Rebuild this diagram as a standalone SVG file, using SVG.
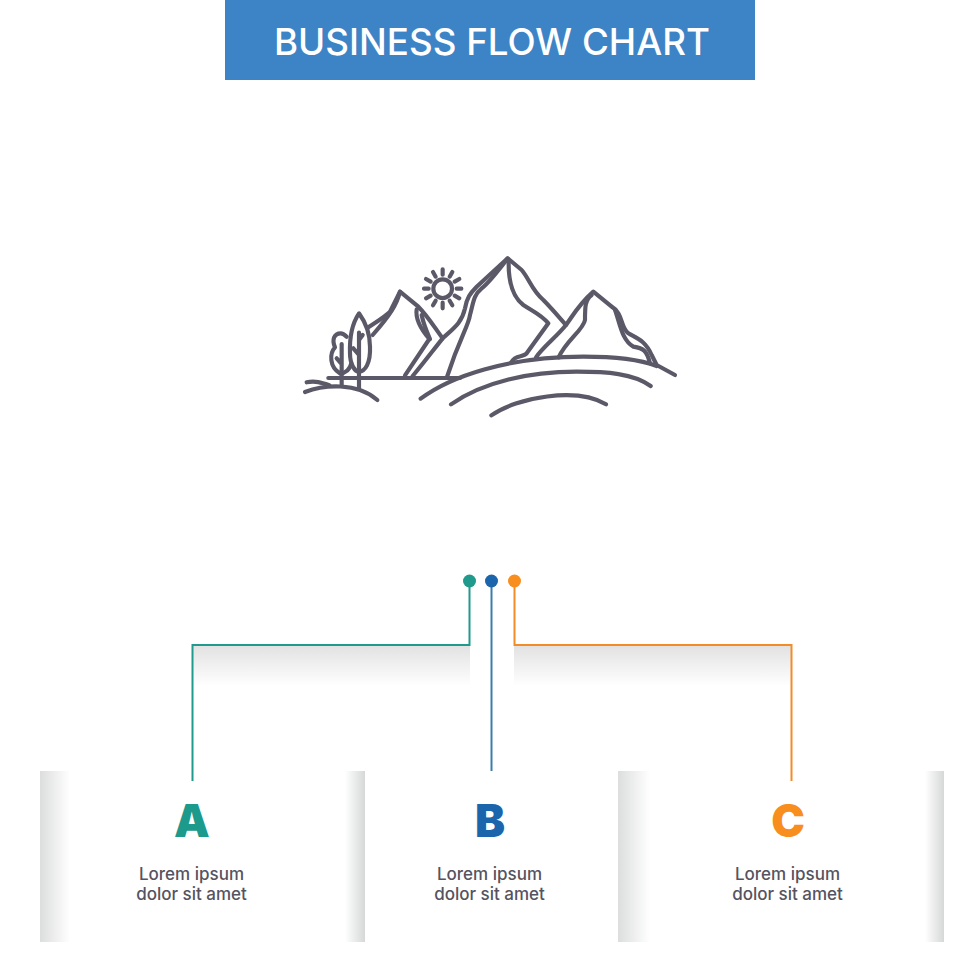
<svg xmlns="http://www.w3.org/2000/svg" width="980" height="980" viewBox="0 0 980 980">
<style>
.ic{fill:none;stroke:#5b5968;stroke-width:12.5;stroke-linecap:round;stroke-linejoin:round}
.t{font-family:Inter,"Open Sans","Liberation Sans",sans-serif;font-size:17px;fill:#55535f;text-anchor:middle;font-weight:500}
.l{font-family:Inter,"Open Sans","Liberation Sans",sans-serif;font-size:45px;font-weight:900;text-anchor:middle}
.c{fill:none;stroke-width:2}
</style>
<defs>
<linearGradient id="sl"><stop offset="0" stop-color="#dcdddd"/><stop offset="1" stop-color="#fff"/></linearGradient>
<linearGradient id="sr"><stop offset="0" stop-color="#fff"/><stop offset="1" stop-color="#d6d7d7"/></linearGradient>
<linearGradient id="sd" x1="0" y1="0" x2="0" y2="1"><stop offset="0" stop-color="#e2e2e3"/><stop offset="1" stop-color="#fff"/></linearGradient>
</defs>
<rect width="980" height="980" fill="#fff"/>
<g id="header">
<rect x="225" y="0" width="530" height="80" fill="#3d84c6"/>
<text x="492" y="55" font-family="Inter,'Open Sans','Liberation Sans',sans-serif" font-size="37" font-weight="500" fill="#fff" text-anchor="middle" textLength="436" lengthAdjust="spacingAndGlyphs">BUSINESS FLOW CHART</text>
</g>
<g id="icon" class="ic" transform="translate(290 240) scale(.33333)">
<path d="M115 414H510"/>
<path d="M45 456C100 435 200 425 262 480"/>
<path d="M50 427C75 421 95 428 118 436"/>
<path d="M152 280C132 280 125 300 135 322C118 340 118 382 150 400C170 400 180 385 184 370M170 290C162 282 158 280 152 280"/>
<path d="M155 312V435M140 355L155 372"/>
<path d="M207 220C190 245 178 285 180 340C180 375 195 395 207 395C225 395 242 370 240 320C240 280 225 245 207 220Z"/>
<path d="M207 278V445M190 325L207 345M218 285L207 300"/>
<path d="M235 262C260 245 285 230 300 215L330 155L385 200C415 230 435 265 458 295"/>
<path d="M330 155C320 195 300 225 248 285"/>
<path d="M380 208C375 240 395 270 418 297L345 406"/>
<path d="M395 225C400 250 410 275 420 297"/>
<path d="M368 408C400 370 430 330 458 295C490 265 515 250 525 205C530 175 540 160 560 140L653 55L695 90C720 120 725 150 760 180C785 205 810 235 828 255"/>
<path d="M653 55C630 85 600 125 575 145C550 165 550 190 540 225C535 260 510 290 472 408"/>
<path d="M656 62C655 110 660 165 700 195C730 215 755 225 775 250L710 340C700 352 675 345 665 365"/>
<path d="M738 352C760 320 800 290 828 255C850 225 865 195 910 155L965 200C1000 220 990 260 1015 280C1040 295 1065 300 1085 345L1100 375L1155 405"/>
<path d="M905 165C885 180 885 200 885 240C880 270 830 300 806 352"/>
<path d="M975 210C990 250 995 300 1030 320C1060 325 1070 330 1080 370"/>
<path d="M392 476C480 410 650 350 880 350C950 350 1040 355 1100 378"/>
<path d="M483 493C580 425 720 395 860 395C950 395 1030 400 1082 438"/>
<path d="M604 526C680 472 860 440 948 493"/>
<g id="sun">
<circle cx="458" cy="146" r="28"/>
<path d="M458 88V104M458 188V205M402 146H416M500 146H514M429 96L437 110M479 182L487 196M408 117L422 125M494 167L508 175M408 175L422 167M494 125L508 117M429 196L437 182M479 110L487 96"/>
</g>
</g>
<g id="panels">
<rect x="40" y="771" width="30" height="171" fill="url(#sl)"/>
<rect x="345" y="771" width="20" height="171" fill="url(#sr)"/>
<rect x="618" y="771" width="32" height="171" fill="url(#sl)"/>
<rect x="925" y="771" width="19" height="171" fill="url(#sr)"/>
<rect x="193" y="646" width="277" height="40" fill="url(#sd)"/>
<rect x="514" y="646" width="277" height="40" fill="url(#sd)"/>
</g>
<g id="connectors">
<path class="c" stroke="#1f9a8c" d="M469.500 581V645H192.500V781"/>
<path class="c" stroke="#3a7cab" d="M491.500 581V771"/>
<path class="c" stroke="#f28c28" d="M514.500 581V645H791.500V781"/>
</g>
<g id="dots">
<circle cx="469.500" cy="581" r="6.500" fill="#1f9a8c"/>
<circle cx="491.500" cy="581" r="6.500" fill="#1b65ac"/>
<circle cx="514.500" cy="581" r="6.500" fill="#f78e1e"/>
</g>
<g id="node-a">
<text class="l" x="192" y="837" fill="#1c9a8c">A</text>
<text class="t" x="191.500" y="880">Lorem ipsum</text>
<text class="t" x="191.500" y="900">dolor sit amet</text>
</g>
<g id="node-b">
<text class="l" x="490" y="837" fill="#1b65ac">B</text>
<text class="t" x="489.500" y="880">Lorem ipsum</text>
<text class="t" x="489.500" y="900">dolor sit amet</text>
</g>
<g id="node-c">
<text class="l" x="788" y="837" fill="#f78e1e">C</text>
<text class="t" x="787.500" y="880">Lorem ipsum</text>
<text class="t" x="787.500" y="900">dolor sit amet</text>
</g>
</svg>
